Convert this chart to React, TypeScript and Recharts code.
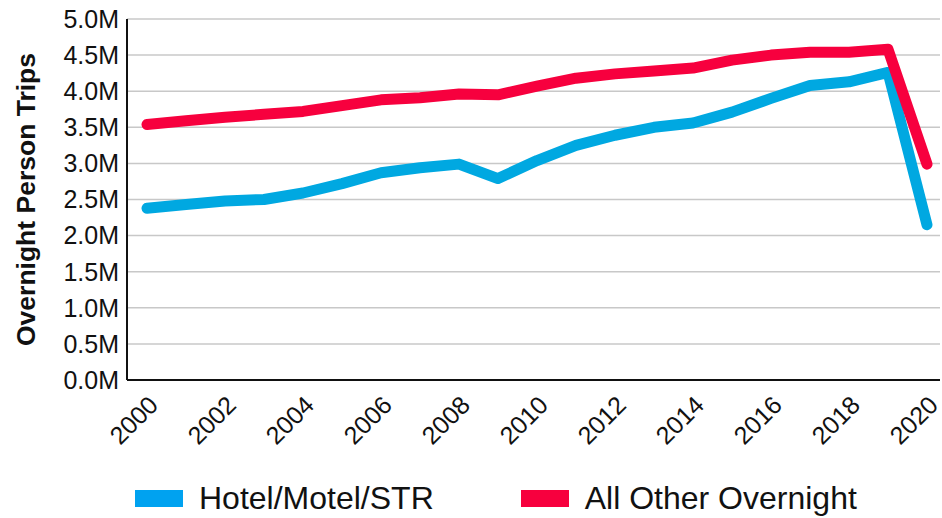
import { LineChart, Line, XAxis, YAxis, CartesianGrid, Legend } from "recharts";

const years = [
  "2000", "2001", "2002", "2003", "2004", "2005", "2006", "2007", "2008", "2009",
  "2010", "2011", "2012", "2013", "2014", "2015", "2016", "2017", "2018", "2019", "2020",
];

// 단위: 백만 건
const hotelTrips = [
  2.38, 2.43, 2.48, 2.5, 2.59, 2.72, 2.87, 2.94, 2.99, 2.79,
  3.04, 3.25, 3.39, 3.5, 3.56, 3.71, 3.9, 4.08, 4.13, 4.26, 2.15,
];
const otherTrips = [
  3.54, 3.59, 3.64, 3.68, 3.72, 3.8, 3.88, 3.91, 3.96, 3.95,
  4.07, 4.18, 4.24, 4.28, 4.32, 4.43, 4.5, 4.54, 4.54, 4.58, 2.99,
];

const yTicks = [0, 0.5, 1, 1.5, 2, 2.5, 3, 3.5, 4, 4.5, 5];

const BLUE = "#00A8E1";
const RED = "#F7003E";
const FONT = "'Liberation Sans', Arial, sans-serif";

const data = years.map((year, i) => ({
  year,
  hotel: hotelTrips[i] * 1_000_000,
  other: otherTrips[i] * 1_000_000,
}));

const legendItems = [
  { label: "Hotel/Motel/STR", color: "#00A2F0" },
  { label: "All Other Overnight", color: RED },
];

function ChartLegend() {
  return (
    <div
      style={{
        display: "flex",
        alignItems: "center",
        paddingLeft: 135,
        paddingTop: 6,
        height: 40,
        fontFamily: FONT,
      }}
    >
      {legendItems.map((item, i) => (
        <div key={item.label} style={{ display: "flex", alignItems: "center", marginRight: i === 0 ? 87 : 0 }}>
          <div style={{ width: 48, height: 17, background: item.color, marginRight: 16 }} />
          <span style={{ fontSize: 32, color: "#111", lineHeight: "36px" }}>{item.label}</span>
        </div>
      ))}
    </div>
  );
}

export default function App() {
  return (
    <div style={{ position: "absolute", left: 0, top: 0, width: 942, height: 518, background: "#fff" }}>
      <LineChart
        width={942}
        height={518}
        data={data}
        margin={{ top: 19, right: 2, bottom: 0, left: 0 }}
        style={{ fontFamily: FONT }}
      >
        <CartesianGrid vertical={false} stroke="#c8c8c8" strokeWidth={1.5} />
        <XAxis
          dataKey="year"
          interval={1}
          height={92}
          padding={{ left: 20, right: 13 }}
          axisLine={{ stroke: "#111", strokeWidth: 2 }}
          tickLine={false}
          angle={-45}
          textAnchor="end"
          tick={{ fontSize: 25, fill: "#111", dy: 6 }}
        />
        <YAxis
          width={127}
          domain={[0, 5_000_000]}
          ticks={yTicks.map((t) => t * 1_000_000)}
          tickFormatter={(v: number) => `${(v / 1_000_000).toFixed(1)}M`}
          axisLine={{ stroke: "#111", strokeWidth: 2 }}
          tickLine={false}
          tick={{ fontSize: 25, fill: "#111" }}
          label={{
            value: "Overnight Person Trips",
            angle: -90,
            position: "insideLeft",
            offset: 26,
            style: { textAnchor: "middle", fontSize: 26.5, fontWeight: 700, fill: "#111" },
          }}
        />
        <Legend verticalAlign="bottom" content={<ChartLegend />} />
        <Line
          dataKey="hotel"
          stroke={BLUE}
          strokeWidth={11}
          strokeLinecap="round"
          strokeLinejoin="round"
          dot={false}
          isAnimationActive={false}
        />
        <Line
          dataKey="other"
          stroke={RED}
          strokeWidth={11}
          strokeLinecap="round"
          strokeLinejoin="round"
          dot={false}
          isAnimationActive={false}
        />
      </LineChart>
    </div>
  );
}
